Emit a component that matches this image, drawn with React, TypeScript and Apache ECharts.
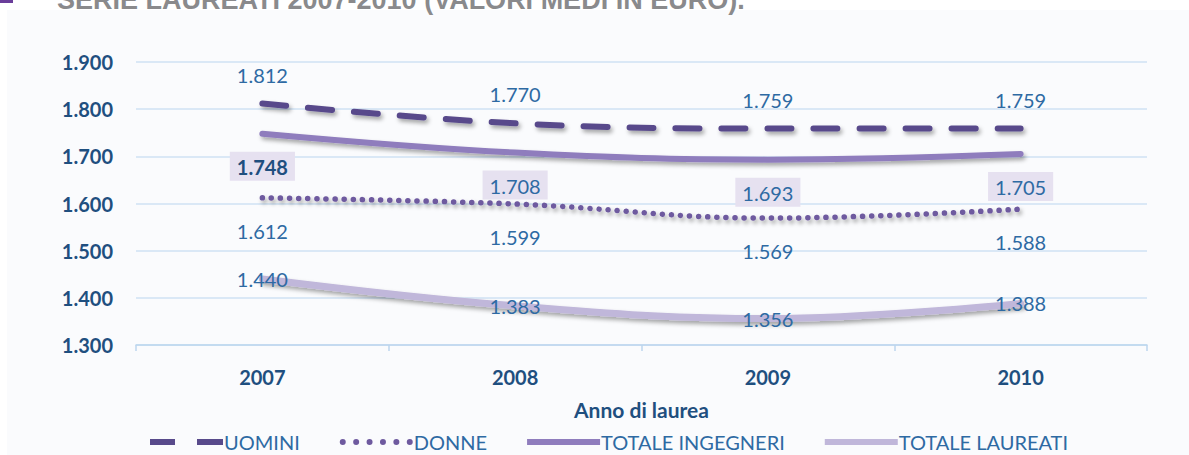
import React, { useEffect, useRef } from "react";
import * as echarts from "echarts";

const categories = ["2007", "2008", "2009", "2010"];
const uomini = [1812, 1770, 1759, 1759];
const donne = [1612, 1599, 1569, 1588];
const totaleIngegneri = [1748, 1708, 1693, 1705];
const totaleLaureati = [1440, 1383, 1356, 1388];
const seriesNames = ["UOMINI", "DONNE", "TOTALE INGEGNERI", "TOTALE LAUREATI"];
const titleText = "SERIE LAUREATI 2007-2010 (VALORI MEDI IN EURO).";
const xAxisName = "Anno di laurea";

const fmt = (v: number) => {
  const s = Math.round(v).toString();
  return s.length > 3 ? s.slice(0, s.length - 3) + "." + s.slice(s.length - 3) : s;
};

const FONT = "Lato, 'Open Sans', sans-serif";
const LABEL_BLUE = "#2e6aa3";
const AXIS_BLUE = "#1f4f7f";
const shadow = {
  shadowColor: "rgba(0,0,0,0.35)",
  shadowBlur: 4,
  shadowOffsetX: 2,
  shadowOffsetY: 3,
};

// legend icons (73 x 6 box)
const dotsPath = (() => {
  let d = "";
  for (let i = 0; i < 6; i++) {
    const cx = 3 + i * 13.4;
    d += `M${cx - 3},3 a3,3 0 1,0 6,0 a3,3 0 1,0 -6,0 Z `;
  }
  return "path://" + d;
})();
const dashPath = "path://M0,0 H25 V6 H0 Z M47,0 H73 V6 H47 Z";
const solidPath = "path://M0,0 H73 V6 H0 Z";

export default function App() {
  const ref = useRef<HTMLDivElement>(null);
  useEffect(() => {
    document.body.style.margin = "0";
    if (!ref.current) return;
    const chart = echarts.init(ref.current, undefined, { renderer: "svg" });
    const labelBase = {
      show: true,
      fontSize: 20,
      color: LABEL_BLUE,
      fontFamily: FONT,
      formatter: (p: any) => fmt(p.value),
    };
    chart.setOption({
      animation: false,
      backgroundColor: "#ffffff",
      textStyle: { fontFamily: FONT },
      graphic: [
        {
          type: "rect",
          shape: { x: 7, y: 10, width: 1182, height: 445 },
          style: { fill: "#fafbfd" },
          z: -10,
          silent: true,
        },
        {
          type: "rect",
          shape: { x: 0, y: 0, width: 13, height: 3 },
          style: { fill: "#6a3d9a" },
          silent: true,
        },
        {
          type: "text",
          x: 57,
          y: 13,
          style: {
            text: titleText,
            fontFamily: "'Liberation Sans', Arial, sans-serif",
            fontWeight: "bold",
            fontSize: 27,
            fill: "#8a8a8c",
            verticalAlign: "bottom",
          },
          silent: true,
        },
      ],
      grid: { left: 136, right: 42, top: 62, bottom: 110 },
      xAxis: {
        type: "category",
        data: categories,
        boundaryGap: true,
        axisLine: { lineStyle: { color: "#bcd6ee", width: 1.5 } },
        axisTick: { show: true, length: 6, lineStyle: { color: "#bcd6ee", width: 1.5 } },
        axisLabel: {
          margin: 22,
          fontSize: 20,
          fontWeight: "bold",
          color: AXIS_BLUE,
          fontFamily: FONT,
        },
        name: xAxisName,
        nameLocation: "middle",
        nameGap: 54,
        nameTextStyle: { fontSize: 21, fontWeight: "bold", color: AXIS_BLUE, fontFamily: FONT },
      },
      yAxis: {
        type: "value",
        min: 1300,
        max: 1900,
        interval: 100,
        axisLine: { show: false },
        axisTick: { show: false },
        splitLine: { lineStyle: { color: "#cfe2f3", width: 1.5 } },
        axisLabel: {
          margin: 23,
          fontSize: 20,
          fontWeight: "bold",
          color: AXIS_BLUE,
          fontFamily: FONT,
          formatter: (v: number) => fmt(v),
        },
      },
      legend: {
        left: 145,
        top: 427,
        itemWidth: 73,
        itemHeight: 6,
        itemGap: 40,
        textStyle: { fontSize: 20, color: LABEL_BLUE, fontFamily: FONT, padding: [0, 0, 0, -4] },
        data: [
          { name: seriesNames[0], icon: dashPath },
          { name: seriesNames[1], icon: dotsPath },
          { name: seriesNames[2], icon: solidPath },
          { name: seriesNames[3], icon: solidPath },
        ],
      },
      series: [
        {
          name: seriesNames[0],
          type: "line",
          data: uomini,
          smooth: 0.4,
          symbol: "circle",
          symbolSize: 0,
          z: 5,
          lineStyle: { color: "#584a8b", width: 6, type: [24, 22], cap: "round", ...shadow },
          itemStyle: { color: "#584a8b" },
          label: { ...labelBase, position: "top", distance: 19 },
        },
        {
          name: seriesNames[1],
          type: "line",
          data: donne,
          smooth: 0.4,
          symbol: "circle",
          symbolSize: 0,
          z: 4,
          lineStyle: { color: "#6e5a9f", width: 5.5, type: [0.1, 9], cap: "round", ...shadow },
          itemStyle: { color: "#6e5a9f" },
          label: { ...labelBase, position: "bottom", distance: 23 },
        },
        {
          name: seriesNames[2],
          type: "line",
          data: totaleIngegneri,
          smooth: 0.4,
          symbol: "circle",
          symbolSize: 0,
          z: 3,
          lineStyle: { color: "#8f7dbd", width: 6, cap: "round", ...shadow },
          itemStyle: { color: "#8f7dbd" },
          label: {
            ...labelBase,
            position: "bottom",
            distance: 18,
            backgroundColor: "#e6e1f0",
            padding: [5, 7, 4, 7],
            formatter: (p: any) => (p.dataIndex === 0 ? "{b|" + fmt(p.value) + "}" : fmt(p.value)),
            rich: {
              b: { fontSize: 20, fontWeight: "bold", color: AXIS_BLUE, fontFamily: FONT },
            },
          },
        },
        {
          name: seriesNames[3],
          type: "line",
          data: totaleLaureati,
          smooth: 0.4,
          symbol: "circle",
          symbolSize: 0,
          z: 2,
          lineStyle: { color: "#c0b7da", width: 7, cap: "round", ...shadow },
          itemStyle: { color: "#c0b7da" },
          label: { ...labelBase, position: "inside" },
        },
      ],
    });
    return () => chart.dispose();
  }, []);
  return <div ref={ref} style={{ width: 1189, height: 455 }} />;
}
